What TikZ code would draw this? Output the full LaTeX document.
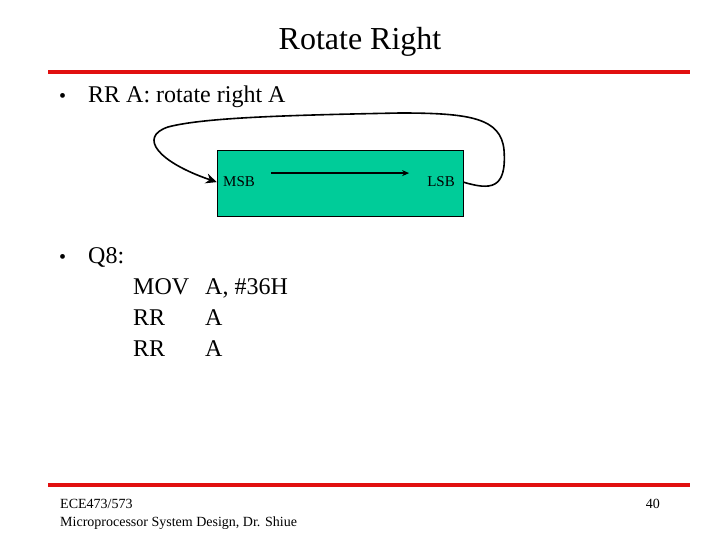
\documentclass[tikz,border=0pt]{standalone}
\usepackage{fontspec}
\setmainfont{Liberation Serif}
\usetikzlibrary{arrows.meta, positioning}

\definecolor{slidered}{RGB}{225,15,15}
\definecolor{regteal}{RGB}{0,204,153}

\tikzset{
    bodytext/.style={font=\fontsize{24}{28}\selectfont, anchor=base west, inner sep=0pt},
    foottext/.style={font=\fontsize{14}{16}\selectfont, anchor=base west, inner sep=0pt},
    bitlabel/.style={font=\fontsize{15}{17}\selectfont, inner sep=0pt},
    rule/.style={slidered, line width=4pt}
}

\begin{document}
\begin{tikzpicture}[x=1pt, y=-1pt]
    \useasboundingbox (0,0) rectangle (720,540);

    % Titulo y lineas
    \node[font=\fontsize{32}{38}\selectfont, anchor=base] (title) at (360,50) {Rotate Right};
    \draw[rule] (48,72) -- (690,72);
    \draw[rule] (48,485) -- (690,485);

    % Primer punto
    \node[bodytext] (dot1) at (59,103) {\fontsize{20}{24}\selectfont\textbullet};
    \node[bodytext] (rrtext) at (88,103) {RR A: rotate right A};

    % Registro A
    \node[draw, fill=regteal, minimum width=246pt, minimum height=66pt, inner sep=0pt] (reg) at (340,183) {};
    \node[bitlabel, anchor=base west] (msb) at (223,187) {MSB};
    \node[bitlabel, anchor=base east] (lsb) at (455,187) {LSB};
    \draw[-{Stealth[length=7pt, width=6pt]}, line width=1.3pt]
        ([xshift=16pt, yshift=9pt] msb.east) -- ([xshift=-18pt, yshift=9pt] lsb.west);

    % Rotacion LSB -> MSB
    \draw[-{Stealth[length=11pt, width=10pt]}, line width=1.6pt]
        (reg.east |- lsb) .. controls (490,190) and (507,190) .. (504,150)
        .. controls (501,118) and (470,113) .. (400,113)
        .. controls (300,115) and (205,117) .. (168,127)
        .. controls (138,137) and (158,162) .. (reg.west |- msb);

    % Q8
    \node[bodytext] (dot2) at (59,263) {\fontsize{20}{24}\selectfont\textbullet};
    \node[bodytext] (q8) at (88,263) {Q8:};
    \node[bodytext] (op1) at (133,294) {MOV};
    \node[bodytext] (arg1) at (205,294) {A, \#36H};
    \node[bodytext] (op2) at (133,325) {RR};
    \node[bodytext] (arg2) at (205,325) {A};
    \node[bodytext] (op3) at (133,356) {RR};
    \node[bodytext] (arg3) at (205,356) {A};

    % Pie de pagina
    \node[foottext] (course) at (60,508) {ECE473/573};
    \node[foottext] (prof) at (60,526) {Microprocessor System Design, Dr. Shiue};
    \node[foottext, anchor=base east] (page) at (660,508) {40};
\end{tikzpicture}
\end{document}
